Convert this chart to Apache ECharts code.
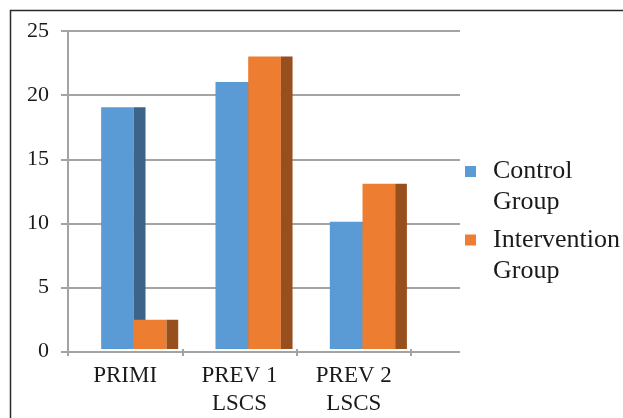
<!DOCTYPE html>
<html>
<head>
<meta charset="utf-8">
<script src="https://cdn.jsdelivr.net/npm/echarts@6/dist/echarts.min.js"></script>
<style>
  html, body { margin: 0; padding: 0; background: #fff; }
  #chart { width: 623px; height: 418px; }
</style>
</head>
<body>
<div id="chart"></div>
<script>
// Categories and group values
const categories = ['PRIMI', 'PREV 1\nLSCS', 'PREV 2\nLSCS'];
const seriesNames = ['Control Group', 'Intervention Group'];
const controlValues = [19, 21, 10];
const interventionValues = [2.3, 23, 13];
const yTicks = [0, 5, 10, 15, 20, 25];

const FONT = '"Liberation Serif", "Times New Roman", serif';
const GRID_COLOR = '#a4a4a4';

// Bar geometry as fractions of a category band
const LEAD = 0.29;   // gap before the first front face
const FRONT = 0.286; // front face width
const SIDE = 0.102;  // shaded side face width

function barRenderer(slot, frontColor, sideColor) {
  return function (params, api) {
    const i = api.value(0);
    const v = api.value(1);
    const base = api.coord([i, 0]);
    const top = api.coord([i, v]);
    const band = api.size([1, 0])[0];
    const fw = band * FRONT;
    const sw = band * SIDE;
    const x = base[0] - band / 2 + band * LEAD + slot * fw;
    const h = base[1] - top[1];
    return {
      type: 'group',
      children: [
        { type: 'rect', shape: { x: x, y: top[1], width: fw, height: h }, style: { fill: frontColor } },
        { type: 'rect', shape: { x: x + fw, y: top[1], width: sw, height: h }, style: { fill: sideColor } }
      ]
    };
  };
}

const chart = echarts.init(document.getElementById('chart'), null, { renderer: 'canvas' });

// Square marker sitting level with the first line of a two-line legend label
const legendIcon = 'path://M0,0H11V11H0Z M0,41.9H0.1V42H0Z';

chart.setOption({
  backgroundColor: '#ffffff',
  animation: false,
  graphic: [{
    type: 'rect',
    shape: { x: 10.5, y: 10.5, width: 700, height: 500 },
    style: { fill: 'none', stroke: '#2a2a2a', lineWidth: 1.5 },
    z: 100
  }],
  legend: {
    orient: 'vertical',
    left: 460,
    top: 151,
    padding: 5,
    itemWidth: 11,
    itemHeight: 42,
    itemGap: 6.5,
    icon: legendIcon,
    formatter: function (name) { return name.replace(' ', '\n'); },
    textStyle: {
      fontFamily: FONT,
      fontSize: 26,
      lineHeight: 31,
      color: '#1a1a1a',
      padding: [0, 0, 0, 12]
    },
    data: seriesNames
  },
  grid: [
    { left: 68, top: 31, width: 392, height: 320.7 },
    { left: 68, top: 31, width: 343, height: 320.7 }
  ],
  xAxis: [
    { gridIndex: 0, type: 'value', show: false, min: 0, max: 1 },
    {
      gridIndex: 1,
      type: 'category',
      data: categories,
      axisLine: { show: false },
      axisTick: { show: true, length: 7, lineStyle: { color: GRID_COLOR, width: 2 } },
      axisLabel: {
        margin: 13,
        fontFamily: FONT,
        fontSize: 23,
        lineHeight: 28,
        color: '#1a1a1a'
      },
      splitLine: { show: false }
    }
  ],
  yAxis: [
    {
      gridIndex: 0,
      type: 'value',
      min: yTicks[0],
      max: yTicks[yTicks.length - 1],
      interval: yTicks[1] - yTicks[0],
      axisLine: { show: true, lineStyle: { color: GRID_COLOR, width: 2 } },
      axisTick: { show: true, length: 7, lineStyle: { color: GRID_COLOR, width: 2 } },
      axisLabel: {
        margin: 19,
        fontFamily: FONT,
        fontSize: 22,
        color: '#1a1a1a'
      },
      splitLine: { show: true, lineStyle: { color: GRID_COLOR, width: 2 } }
    },
    {
      gridIndex: 1,
      type: 'value',
      min: yTicks[0],
      max: yTicks[yTicks.length - 1],
      show: false
    }
  ],
  series: [
    {
      name: seriesNames[0],
      type: 'custom',
      xAxisIndex: 1,
      yAxisIndex: 1,
      itemStyle: { color: '#5b9bd5' },
      renderItem: barRenderer(0, '#5b9bd5', '#3c6488'),
      encode: { x: 0, y: 1 },
      data: controlValues.map(function (v, i) { return [i, v]; }),
      z: 2
    },
    {
      name: seriesNames[1],
      type: 'custom',
      xAxisIndex: 1,
      yAxisIndex: 1,
      itemStyle: { color: '#ed7d31' },
      renderItem: barRenderer(1, '#ed7d31', '#974f1d'),
      encode: { x: 0, y: 1 },
      data: interventionValues.map(function (v, i) { return [i, v]; }),
      z: 3
    }
  ]
});
</script>
</body>
</html>
